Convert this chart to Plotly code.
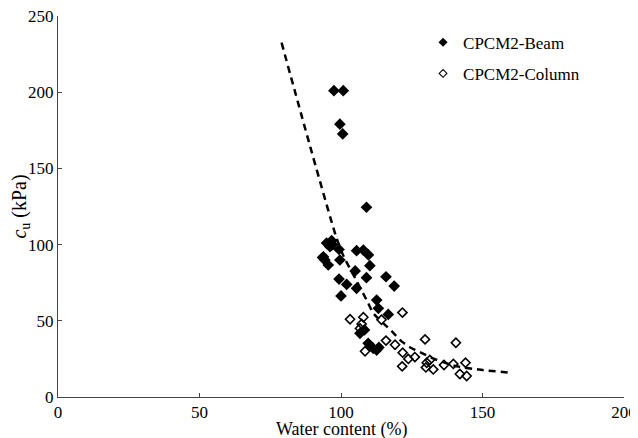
import plotly.graph_objects as go

# CPCM2-Beam (filled diamonds): water content (%), cu (kPa)
beam_w = [97.5, 100.8, 99.6, 100.6, 109.0, 94.9, 96.7, 96.1, 93.8, 94.3, 95.5, 99.3, 99.6,
          105.5, 107.9, 109.7, 110.2, 105.0, 99.3, 102.0, 105.5, 109.0, 115.9, 118.8, 100.0,
          112.6, 113.2, 116.7, 106.7, 109.6, 111.4, 112.6, 113.4, 97.0, 93.5, 108.3]
beam_cu = [201.0, 201.0, 179.0, 172.6, 124.5, 101.0, 102.6, 98.6, 92.0, 89.9, 86.6, 96.8, 89.9,
           96.0, 96.4, 93.2, 86.2, 82.7, 77.4, 73.9, 71.3, 78.3, 78.9, 72.8, 66.3,
           63.6, 58.2, 54.2, 41.8, 35.2, 31.9, 30.8, 32.5, 100.0, 91.5, 44.0]

# CPCM2-Column (hollow diamonds)
col_w = [103.2, 107.9, 107.3, 106.7, 114.3, 121.7, 108.5, 115.9, 119.1, 121.8, 123.8, 126.1,
         121.6, 129.7, 130.3, 131.4, 130.0, 132.6, 136.4, 139.7, 140.6, 144.0, 142.0, 144.4]
col_cu = [51.0, 52.3, 47.9, 45.0, 50.7, 55.4, 30.0, 37.0, 34.3, 29.1, 25.0, 26.2,
          20.1, 37.8, 22.5, 24.3, 19.4, 18.1, 21.0, 21.7, 35.6, 22.5, 15.1, 13.8]

# Trend line (dashed)
trend_w = [79.0, 88.8, 98.3, 101.0, 105.0, 109.5, 111.4, 118.0, 121.4, 125.0, 129.0, 132.6,
           140.0, 150.0, 159.5]
trend_cu = [232.5, 166.4, 105.0, 92.0, 78.0, 62.0, 55.0, 43.0, 36.5, 32.0, 28.5, 25.3,
            20.5, 17.7, 16.0]

x_ticks = [0, 50, 100, 150, 200]
y_ticks = [0, 50, 100, 150, 200, 250]

FONT = "Liberation Serif"

fig = go.Figure()
fig.add_trace(go.Scatter(
    x=trend_w, y=trend_cu, mode="lines", showlegend=False,
    line=dict(color="black", width=2.5, dash="7px,5px", shape="spline", smoothing=0.6),
    hoverinfo="skip"))
fig.add_trace(go.Scatter(
    x=beam_w, y=beam_cu, mode="markers", name="CPCM2-Beam", showlegend=False,
    marker=dict(symbol="diamond", size=9, color="black", line=dict(width=0))))
fig.add_trace(go.Scatter(
    x=col_w, y=col_cu, mode="markers", name="CPCM2-Column", showlegend=False,
    marker=dict(symbol="diamond-open", size=7, color="black", line=dict(width=1.6, color="black"))))
# legend entries with the small legend-style markers
fig.add_trace(go.Scatter(
    x=[None], y=[None], mode="markers", name="CPCM2-Beam", legendgroup="b",
    marker=dict(symbol="diamond", size=7, color="black", line=dict(width=0))))
fig.add_trace(go.Scatter(
    x=[None], y=[None], mode="markers", name="CPCM2-Column", legendgroup="c",
    marker=dict(symbol="diamond-open", size=6, color="black", line=dict(width=1.1, color="black"))))

axis_common = dict(
    showgrid=False, zeroline=False, showline=True, linecolor="#444", linewidth=1,
    ticks="inside", ticklen=4, tickcolor="#444", automargin=False,
    ticklabeloverflow="allow",
    tickfont=dict(family=FONT, size=17, color="black"))

# page body has an 8px margin, so the figure is 630x430 to fit the 638x438 window
fig.update_layout(
    width=630, height=430,
    margin=dict(l=50, r=14, t=8, b=41),
    paper_bgcolor="white", plot_bgcolor="white",
    font=dict(family=FONT, color="black"),
    xaxis=dict(range=[0, 200], tickvals=x_ticks, **axis_common),
    yaxis=dict(range=[0, 250], tickvals=y_ticks, **axis_common,
               title=dict(text="<i>c</i><sub>u</sub> (kPa)", font=dict(family=FONT, size=20), standoff=4)),
    legend=dict(x=0.645, y=0.977, xanchor="left", yanchor="top",
                font=dict(family=FONT, size=17, color="black"),
                bgcolor="rgba(0,0,0,0)", traceorder="grouped", tracegroupgap=6,
                itemsizing="trace", itemwidth=30),
    annotations=[dict(text="Water content (%)", xref="paper", yref="paper", x=0.5, y=0,
                      xanchor="center", yanchor="middle", yshift=-32, showarrow=False,
                      font=dict(family=FONT, size=18, color="black"))],
)

fig.write_html("out.html")
